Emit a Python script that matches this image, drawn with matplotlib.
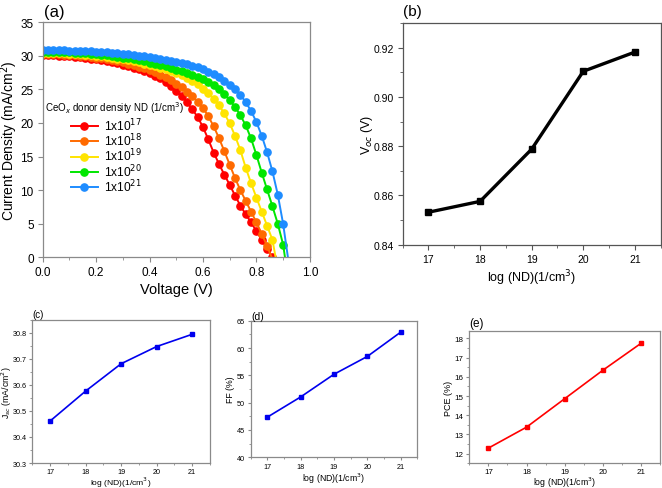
import matplotlib
matplotlib.use("Agg")
import matplotlib.pyplot as plt
from matplotlib.ticker import MultipleLocator, FormatStrFormatter

plt.rcParams['font.family'] = ['Liberation Sans', 'DejaVu Sans']

# J-V data, one point every 0.02 V
volts = [0.00, 0.02, 0.04, 0.06, 0.08, 0.10, 0.12, 0.14, 0.16, 0.18,
         0.20, 0.22, 0.24, 0.26, 0.28, 0.30, 0.32, 0.34, 0.36, 0.38,
         0.40, 0.42, 0.44, 0.46, 0.48, 0.50, 0.52, 0.54, 0.56, 0.58,
         0.60, 0.62, 0.64, 0.66, 0.68, 0.70, 0.72, 0.74, 0.76, 0.78,
         0.80, 0.82, 0.84, 0.86, 0.88, 0.90]

j_1e17 = [30.15, 30.12, 30.09, 30.05, 30.00, 29.94, 29.87, 29.79, 29.70, 29.60,
          29.48, 29.35, 29.20, 29.04, 28.87, 28.68, 28.47, 28.24, 27.99, 27.71,
          27.40, 27.05, 26.63, 26.12, 25.50, 24.78, 23.97, 23.07, 22.06, 20.88,
          19.40, 17.55, 15.60, 13.90, 12.30, 10.80, 9.20, 7.70, 6.40, 5.20,
          3.90, 2.60, 1.30, 0.00]
j_1e18 = [30.30, 30.28, 30.25, 30.22, 30.18, 30.13, 30.07, 30.00, 29.92, 29.83,
          29.73, 29.62, 29.49, 29.35, 29.19, 29.02, 28.83, 28.62, 28.39, 28.13,
          27.85, 27.54, 27.19, 26.80, 26.36, 25.86, 25.30, 24.67, 23.96, 23.16,
          22.26, 21.00, 19.50, 17.75, 15.80, 13.80, 11.80, 10.00, 8.40, 6.80,
          5.20, 3.50, 1.70]
j_1e19 = [30.45, 30.43, 30.41, 30.38, 30.35, 30.31, 30.27, 30.22, 30.16, 30.09,
          30.01, 29.92, 29.82, 29.71, 29.59, 29.46, 29.32, 29.17, 29.01, 28.84,
          28.66, 28.47, 28.26, 28.04, 27.78, 27.48, 27.13, 26.73, 26.27, 25.74,
          25.12, 24.42, 23.60, 22.62, 21.42, 19.95, 18.10, 15.95, 13.35, 11.05,
          8.90, 6.80, 4.70, 2.60]
j_1e20 = [30.60, 30.59, 30.57, 30.55, 30.53, 30.50, 30.46, 30.42, 30.37, 30.31,
          30.24, 30.16, 30.07, 29.97, 29.86, 29.74, 29.61, 29.47, 29.32, 29.16,
          28.99, 28.81, 28.62, 28.42, 28.20, 27.96, 27.72, 27.46, 27.18, 26.87,
          26.52, 26.10, 25.60, 25.00, 24.28, 23.42, 22.40, 21.15, 19.65, 17.70,
          15.25, 12.60, 10.10, 7.60, 5.00, 1.90]
j_1e21 = [30.85, 30.84, 30.83, 30.82, 30.80, 30.78, 30.76, 30.73, 30.70, 30.66,
          30.62, 30.57, 30.51, 30.45, 30.38, 30.30, 30.22, 30.13, 30.03, 29.93,
          29.82, 29.70, 29.57, 29.43, 29.28, 29.12, 28.94, 28.74, 28.52, 28.27,
          27.98, 27.65, 27.27, 26.83, 26.32, 25.73, 25.03, 24.20, 23.10, 21.80,
          20.15, 18.10, 15.65, 12.80, 9.35, 5.00]
v_end = [0.86, 0.857, 0.872, 0.907, 0.918]
curves = [j_1e17, j_1e18, j_1e19, j_1e20, j_1e21]
curve_labels = ["1x10$^{17}$", "1x10$^{18}$", "1x10$^{19}$", "1x10$^{20}$", "1x10$^{21}$"]
curve_colors = ["#ff0000", "#ff6a00", "#ffe400", "#00e600", "#1e8cff"]

# device parameters vs doping
log_nd = [17, 18, 19, 20, 21]
voc = [0.8532, 0.8576, 0.8788, 0.9104, 0.9182]
jsc = [30.461, 30.576, 30.681, 30.747, 30.794]
ff = [47.35, 51.05, 55.2, 58.46, 62.9]
pce = [12.29, 13.38, 14.86, 16.34, 17.74]

spine_col = "#8a8a8a"


def style_axes(ax, col=spine_col, tl=3.5, pad=3.0):
    for s in ax.spines.values():
        s.set_color(col)
        s.set_linewidth(0.9)
    ax.tick_params(which='both', direction='out', top=False, right=False, color=col, pad=pad)
    ax.tick_params(which='major', length=tl)
    ax.tick_params(which='minor', length=tl * 0.6)


def place_labels(ax, xl, yl):
    # label centres in axes coords
    ax.xaxis.set_label_coords(0.5, xl)
    ax.yaxis.set_label_coords(yl, 0.5)
    ax.xaxis.label.set_va('center')
    ax.yaxis.label.set_va('center')


fig = plt.figure(figsize=(6.62, 4.89), dpi=100)

# (a) J-V curves
ax = fig.add_axes([0.0645, 0.4718, 0.4035, 0.4806])
for j, ve, lab, c in zip(curves, v_end, curve_labels, curve_colors):
    xs = volts[:len(j)] + [ve]
    ys = j + [0.0]
    ax.plot(xs, ys, color=c, lw=1.4, marker='o', ms=5.2, markevery=list(range(len(j))),
            label=lab)
ax.set_xlim(0, 1.0)
ax.set_ylim(0, 35)
ax.xaxis.set_major_locator(MultipleLocator(0.2))
ax.xaxis.set_minor_locator(MultipleLocator(0.1))
ax.xaxis.set_major_formatter(FormatStrFormatter('%.1f'))
ax.yaxis.set_major_locator(MultipleLocator(5))
style_axes(ax)
ax.tick_params(labelsize=8.5)
ax.set_xlabel("Voltage (V)", fontsize=10.5)
ax.set_ylabel("Current Density (mA/cm$^2$)", fontsize=10)
place_labels(ax, -0.135, -0.124)
ax.text(0.01, 22.3, "CeO$_x$ donor density ND (1/cm$^3$)", fontsize=7, va='center', ha='left')
ax.legend(loc='upper left', bbox_to_anchor=(0.105, 0.60), frameon=False, fontsize=8.6,
          handlelength=2.3, handletextpad=0.5, labelspacing=-0.1, borderpad=0,
          borderaxespad=0)
fig.text(0.066, 0.974, "(a)", fontsize=12, va='center', ha='left')

# (b) Voc
ax = fig.add_axes([0.6083, 0.4975, 0.3897, 0.4534])
ax.plot(log_nd, voc, color='black', lw=2.4, marker='s', ms=4)
ax.set_xlim(16.5, 21.5)
ax.set_ylim(0.84, 0.93)
ax.xaxis.set_major_locator(MultipleLocator(1))
ax.xaxis.set_minor_locator(MultipleLocator(0.5))
ax.yaxis.set_major_locator(MultipleLocator(0.02))
ax.yaxis.set_minor_locator(MultipleLocator(0.01))
ax.yaxis.set_major_formatter(FormatStrFormatter('%.2f'))
style_axes(ax, col="#555555")
ax.tick_params(labelsize=7.5)
ax.set_xlabel("log (ND)(1/cm$^3$)", fontsize=9)
ax.set_ylabel("V$_{oc}$ (V)", fontsize=9)
place_labels(ax, -0.148, -0.14)
fig.text(0.609, 0.976, "(b)", fontsize=11, va='center', ha='left')

# (c) Jsc
ax = fig.add_axes([0.0488, 0.0511, 0.2684, 0.2931])
ax.plot(log_nd, jsc, color='#0000ee', lw=1.2, marker='s', ms=2.3)
ax.set_xlim(16.5, 21.5)
ax.set_ylim(30.3, 30.85)
ax.xaxis.set_major_locator(MultipleLocator(1))
ax.xaxis.set_minor_locator(MultipleLocator(0.5))
ax.yaxis.set_major_locator(MultipleLocator(0.1))
ax.yaxis.set_minor_locator(MultipleLocator(0.05))
ax.yaxis.set_major_formatter(FormatStrFormatter('%.1f'))
style_axes(ax, tl=2.5, pad=1.6)
ax.tick_params(axis='x', pad=0.8)
ax.tick_params(labelsize=5.2)
ax.set_xlabel("log (ND)(1/cm$^3$)", fontsize=6.1)
ax.set_ylabel("J$_{sc}$ (mA/cm$^2$)", fontsize=6.3)
place_labels(ax, -0.13, -0.144)
fig.text(0.049, 0.356, "(c)", fontsize=7, va='center', ha='left')

# (d) FF
ax = fig.add_axes([0.3787, 0.0628, 0.2517, 0.2793])
ax.plot(log_nd, ff, color='#0000ee', lw=1.2, marker='s', ms=2.3)
ax.set_xlim(16.5, 21.5)
ax.set_ylim(40, 65)
ax.xaxis.set_major_locator(MultipleLocator(1))
ax.xaxis.set_minor_locator(MultipleLocator(0.5))
ax.yaxis.set_major_locator(MultipleLocator(5))
ax.yaxis.set_minor_locator(MultipleLocator(2.5))
style_axes(ax, tl=2.5, pad=1.6)
ax.tick_params(labelsize=5.2)
ax.set_xlabel("log (ND)(1/cm$^3$)", fontsize=6.3)
ax.set_ylabel("FF (%)", fontsize=6.3)
place_labels(ax, -0.15, -0.124)
fig.text(0.379, 0.352, "(d)", fontsize=7.5, va='center', ha='left')

# (e) PCE
ax = fig.add_axes([0.7089, 0.0505, 0.2881, 0.2712])
ax.plot(log_nd, pce, color='#ff0000', lw=1.2, marker='s', ms=2.3)
ax.set_xlim(16.5, 21.5)
ax.set_ylim(11.5, 18.4)
ax.xaxis.set_major_locator(MultipleLocator(1))
ax.xaxis.set_minor_locator(MultipleLocator(0.5))
ax.yaxis.set_major_locator(MultipleLocator(1))
ax.yaxis.set_minor_locator(MultipleLocator(0.5))
style_axes(ax, tl=2.5, pad=1.6)
ax.tick_params(axis='x', pad=0.8)
ax.tick_params(labelsize=5.8)
ax.set_xlabel("log (ND)(1/cm$^3$)", fontsize=6.3)
ax.set_ylabel("PCE (%)", fontsize=6.5)
place_labels(ax, -0.14, -0.11)
fig.text(0.709, 0.337, "(e)", fontsize=8.5, va='center', ha='left')

fig.savefig("out.png", dpi=100)
